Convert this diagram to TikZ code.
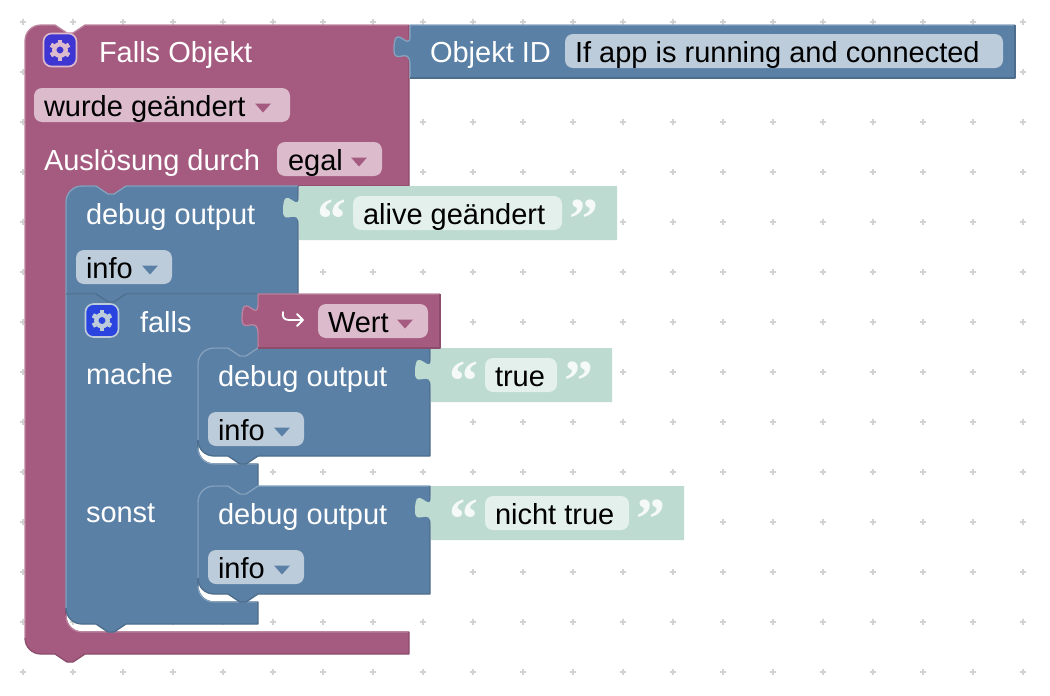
\documentclass[tikz,border=0pt]{standalone}
\usepackage{fontspec}
\setmainfont{Liberation Sans}
\newfontfamily\quotefont{Liberation Serif}
\definecolor{purp}{HTML}{A55B80}
\definecolor{purpL}{HTML}{BC84A0}
\definecolor{purpD}{HTML}{8C4D6D}
\definecolor{purpF}{HTML}{DBBBCC}
\definecolor{blu}{HTML}{5B80A5}
\definecolor{bluL}{HTML}{86A2BE}
\definecolor{bluD}{HTML}{4D6D8C}
\definecolor{bluF}{HTML}{BDCCDB}
\definecolor{grn}{HTML}{BEDBD1}
\definecolor{grnF}{HTML}{E4F0EC}
\definecolor{dotc}{HTML}{D2D2D2}
\definecolor{iconA}{HTML}{3F35D2}
\definecolor{iconB}{HTML}{2A44E0}
\tikzset{
  lbl/.style={anchor=base west,inner sep=0pt,outer sep=0pt,font=\fontsize{29}{34}\selectfont},
  wlbl/.style={lbl,text=white},
  blbl/.style={lbl,text=black},
  qmark/.style={anchor=base,inner sep=0pt,text=white,text opacity=.85,font=\quotefont\bfseries\fontsize{58}{58}\selectfont},
}
\newcommand{\vtab}[2]{(#1,#2) .. controls (#1,#2+20) and (#1-16,#2-16) .. (#1-16,#2+15) .. controls (#1-16,#2+31) and (#1,#2+10) .. (#1,#2+30)}
% fill colour, light colour, dark colour, lit path, join point, rest
\newcommand{\blk}[6]{%
  \fill[#1] #4 #6 -- cycle;
  \draw[#2,line width=1.3pt,line join=round] #4;
  \draw[#3,line width=1.3pt,line join=round] #5 #6;
}
\newcommand{\fieldbox}[5]{\fill[#5,rounded corners=8pt] (#1,#2) rectangle (#3,#4);}
\newcommand{\ddarrow}[3]{\fill[#3] (#1,#2) -- (#1+16,#2) -- (#1+8,#2+9) -- cycle;}
\newcommand{\gearicon}[4]{%
  \filldraw[fill=#3,rounded corners=8pt,draw=#4,line width=1.6pt] (#1-16.5,#2-16.5) rectangle (#1+16.5,#2+16.5);
  \draw[#4,line width=4.4pt] (#1,#2) circle[radius=5.7];
  \foreach \a in {30,90,...,330}{\draw[#4,line width=4.6pt] (#1,#2) ++(\a:6.5) -- ++(\a:4);}
}
\begin{document}
\begin{tikzpicture}[x=1pt,y=-1pt]
\useasboundingbox (0,0) rectangle (1050,696);
% grid
\foreach \i in {0,...,20}{\foreach \j in {0,...,13}{
  \draw[dotc,line width=1.7pt] (23+50*\i-3.2,22+50*\j) -- (23+50*\i+3.2,22+50*\j)
    (23+50*\i,22+50*\j-3.2) -- (23+50*\i,22+50*\j+3.2);
}}
% hat block
\blk{purp}{purpL}{purpD}
 {(25,638) -- (25,41) .. controls (25,32) and (32,25) .. (41,25) -- (55,25) -- (67,33) -- (73,33) -- (85,25) -- (409,25)}
 {(409,25)}
 {-- (409,186) -- (126,186) -- (114,194) -- (108,194) -- (96,186) -- (82,186) .. controls (73,186) and (66,193) .. (66,202) -- (66,616) .. controls (66,625) and (73,632) .. (82,632) -- (409,632) -- (409,654) -- (85,654) -- (73,662) -- (67,662) -- (55,654) -- (41,654) .. controls (32,654) and (25,647) .. (25,638)}
\draw[purpL,line width=1.3pt] (66,616) .. controls (66,625) and (73,632) .. (82,632) -- (408,632);
% object id block
\blk{blu}{bluL}{bluD}
 {(1015,25) -- (410,25) -- \vtab{410}{35} -- (410,78)}
 {(410,78)}
 {-- (1015,78) -- (1015,25)}
% falls block
\blk{blu}{bluL}{bluD}
 {(66,608) -- (66,294) -- (96,294) -- (108,302) -- (114,302) -- (126,294) -- (258,294)}
 {(258,294)}
 {-- (258,348) -- (246,356) -- (240,356) -- (228,348) -- (214,348) .. controls (205,348) and (198,355) .. (198,364) -- (198,448) .. controls (198,457) and (205,464) .. (214,464) -- (258,464) -- (258,486) -- (246,494) -- (240,494) -- (228,486) -- (214,486) .. controls (205,486) and (198,493) .. (198,502) -- (198,586) .. controls (198,595) and (205,602) .. (214,602) -- (258,602) -- (258,624) -- (126,624) -- (114,632) -- (108,632) -- (96,624) -- (82,624) .. controls (73,624) and (66,617) .. (66,608)}
\draw[bluL,line width=1.3pt] (198,448) .. controls (198,457) and (205,464) .. (214,464) -- (257,464);
\draw[bluL,line width=1.3pt] (198,586) .. controls (198,595) and (205,602) .. (214,602) -- (257,602);
% debug 1
\blk{blu}{bluL}{bluD}
 {(66,294) -- (66,202) .. controls (66,193) and (73,186) .. (82,186) -- (96,186) -- (108,194) -- (114,194) -- (126,186) -- (298,186)}
 {(298,186)}
 {-- (298,294) -- (126,294) -- (114,302) -- (108,302) -- (96,294) -- (66,294)}
% debug 2
\blk{blu}{bluL}{bluD}
 {(198,440) -- (198,364) .. controls (198,355) and (205,348) .. (214,348) -- (228,348) -- (240,356) -- (246,356) -- (258,348) -- (430,348)}
 {(430,348)}
 {-- (430,456) -- (258,456) -- (246,464) -- (240,464) -- (228,456) -- (214,456) .. controls (205,456) and (198,449) .. (198,440)}
% debug 3
\blk{blu}{bluL}{bluD}
 {(198,578) -- (198,502) .. controls (198,493) and (205,486) .. (214,486) -- (228,486) -- (240,494) -- (246,494) -- (258,486) -- (430,486)}
 {(430,486)}
 {-- (430,594) -- (258,594) -- (246,602) -- (240,602) -- (228,594) -- (214,594) .. controls (205,594) and (198,587) .. (198,578)}
% value blocks
\fill[grn] (617,186) -- (299,186) -- \vtab{299}{196} -- (299,240) -- (617,240) -- cycle;
\fill[grn] (612,348) -- (431,348) -- \vtab{431}{358} -- (431,402) -- (612,402) -- cycle;
\fill[grn] (684,486) -- (431,486) -- \vtab{431}{496} -- (431,540) -- (684,540) -- cycle;
\blk{purp}{purpL}{purpD}
 {(440,294) -- (258,294) -- \vtab{258}{304} -- (258,348)}
 {(258,348)}
 {-- (440,348) -- (440,294)}
% fields
\fieldbox{34}{88}{290}{122}{purpF}
\ddarrow{255}{103.5}{purp}
\fieldbox{277}{142}{382}{176}{purpF}
\ddarrow{351}{157.5}{purp}
\fieldbox{318}{304}{428}{338}{purpF}
\ddarrow{397}{319.5}{purp}
\fieldbox{76}{250}{172}{284}{bluF}
\ddarrow{142}{265.5}{blu}
\fieldbox{208}{412}{304}{446}{bluF}
\ddarrow{274}{427.5}{blu}
\fieldbox{208}{550}{304}{584}{bluF}
\ddarrow{274}{565.5}{blu}
\fieldbox{565}{34}{1003}{68}{bluF}
\fieldbox{353}{196}{562}{230}{grnF}
\fieldbox{485}{358}{557}{392}{grnF}
\fieldbox{485}{496}{629}{530}{grnF}
% icons
\gearicon{60}{50}{iconA}{purpF}
\gearicon{102}{320.5}{iconB}{bluF}
% return arrow of Wert
\draw[white,line width=1.8pt,line cap=round,line join=round] (283,312) .. controls (282,317) and (284,320) .. (289,320) -- (303,320) (297,314) -- (303,320) -- (297,326);
% labels
\node[wlbl] (t1) at (99,62) {Falls Objekt};
\node[wlbl] (t2) at (430,62) {Objekt ID};
\node[blbl] (t3) at (575,62) {If app is running and connected};
\node[blbl] (t4) at (44,116) {wurde geändert};
\node[wlbl] (t5) at (44,170) {Auslösung durch};
\node[blbl] (t6) at (288,170) {egal};
\node[wlbl] (t7) at (86,224) {debug output};
\node[blbl] (t8) at (363,224) {alive geändert};
\node[blbl] (t9) at (86,278) {info};
\node[wlbl] (t10) at (140,332) {falls};
\node[blbl] (t11) at (328,332) {Wert};
\node[wlbl] (t12) at (86,384) {mache};
\node[wlbl] (t13) at (218,386) {debug output};
\node[blbl] (t14) at (495,386) {true};
\node[blbl] (t15) at (218,440) {info};
\node[wlbl] (t16) at (86,522) {sonst};
\node[wlbl] (t17) at (218,524) {debug output};
\node[blbl] (t18) at (495,524) {nicht true};
\node[blbl] (t19) at (218,578) {info};
% quotes
\node[qmark] (q1) at (332,238) {“};
\node[qmark] (q2) at (584,238) {”};
\node[qmark] (q3) at (464,400) {“};
\node[qmark] (q4) at (579,400) {”};
\node[qmark] (q5) at (464,538) {“};
\node[qmark] (q6) at (651,538) {”};
\end{tikzpicture}
\end{document}
